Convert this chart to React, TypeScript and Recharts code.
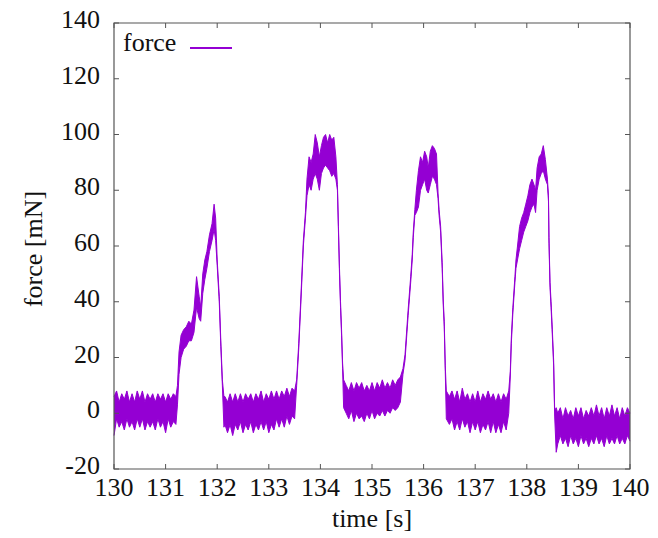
import React from 'react';
import { ComposedChart, Area, XAxis, YAxis, ReferenceArea, Legend } from 'recharts';

// ---- data (time in s, force envelope in mN) ----
const time: number[] = [
  // baseline 1
  130.00, 130.05, 130.10, 130.15, 130.20, 130.25, 130.30, 130.35, 130.40, 130.45, 130.50, 130.55, 130.60,
  130.65, 130.70, 130.75, 130.80, 130.85, 130.90, 130.95, 131.00, 131.05, 131.10, 131.15, 131.20,
  // press 1
  131.23, 131.26, 131.30, 131.35, 131.40, 131.45, 131.50, 131.55, 131.60, 131.65, 131.68, 131.72, 131.76,
  131.80, 131.85, 131.90, 131.94, 131.97, 132.00, 132.04, 132.07, 132.10,
  // baseline 2
  132.13, 132.15, 132.20, 132.25, 132.30, 132.35, 132.40, 132.45, 132.50, 132.55, 132.60, 132.65, 132.70,
  132.75, 132.80, 132.85, 132.90, 132.95, 133.00, 133.05, 133.10, 133.15, 133.20, 133.25, 133.30, 133.35,
  133.40, 133.45, 133.50,
  // press 2
  133.54, 133.58, 133.62, 133.67, 133.71, 133.74, 133.78, 133.82, 133.86, 133.90, 133.94, 133.98, 134.02,
  134.06, 134.10, 134.14, 134.18, 134.22, 134.26, 134.30, 134.33, 134.35, 134.37, 134.39, 134.41, 134.43,
  134.45,
  // baseline 3
  134.50, 134.55, 134.60, 134.65, 134.70, 134.75, 134.80, 134.85, 134.90, 134.95, 135.00, 135.05, 135.10,
  135.15, 135.20, 135.25, 135.30, 135.35, 135.40, 135.45, 135.50, 135.55,
  // press 3
  135.60, 135.64, 135.70, 135.75, 135.78, 135.80, 135.83, 135.86, 135.90, 135.94, 135.98, 136.02, 136.06,
  136.09, 136.13, 136.17, 136.21, 136.25, 136.28, 136.30, 136.33, 136.36, 136.38, 136.40, 136.42, 136.44,
  // baseline 4
  136.50, 136.55, 136.60, 136.65, 136.70, 136.75, 136.80, 136.85, 136.90, 136.95, 137.00, 137.05, 137.10,
  137.15, 137.20, 137.25, 137.30, 137.35, 137.40, 137.45, 137.50, 137.55, 137.60, 137.65,
  // press 4
  137.68, 137.70, 137.73, 137.77, 137.79, 137.82, 137.86, 137.90, 137.94, 137.98, 138.02, 138.06, 138.10,
  138.14, 138.17, 138.20, 138.24, 138.28, 138.32, 138.36, 138.40, 138.42, 138.43, 138.45, 138.47, 138.49,
  138.52, 138.54, 138.57,
  // baseline 5
  138.60, 138.65, 138.70, 138.75, 138.80, 138.85, 138.90, 138.95, 139.00, 139.05, 139.10, 139.15, 139.20,
  139.25, 139.30, 139.35, 139.40, 139.45, 139.50, 139.55, 139.60, 139.65, 139.70, 139.75, 139.80, 139.85,
  139.90, 139.95, 140.00,
];

const forceHigh: number[] = [
  6, 8, 4, 7, 5, 8, 4, 7, 4, 8, 5, 8, 4, 7, 5, 7, 4, 7, 5, 7, 4, 7, 5, 7, 6,
  10, 22, 28, 30, 31, 33, 32, 37, 49, 42, 38, 50, 55, 58, 64, 68, 75, 70, 55, 42, 26, 12,
  6, 6, 4, 7, 4, 7, 4, 7, 4, 7, 5, 7, 4, 7, 5, 8, 4, 7, 5, 8, 5, 8, 5, 8, 6, 9, 6, 9, 8,
  12, 25, 41, 62, 72, 84, 92, 90, 93, 100, 97, 92, 96, 99, 100, 97, 100, 98, 99, 92, 82, 67, 52, 40, 30, 18, 12,
  10, 8, 11, 8, 11, 9, 11, 8, 10, 8, 11, 8, 11, 9, 12, 9, 11, 9, 12, 10, 12, 13,
  16, 21, 37, 49, 57, 65, 73, 80, 87, 92, 90, 94, 92, 88, 94, 96, 95, 93, 79, 73, 67, 54, 41, 33, 17, 8,
  6, 8, 5, 8, 4, 9, 5, 7, 4, 7, 4, 8, 4, 7, 5, 8, 5, 7, 4, 7, 4, 7, 5, 8,
  15, 27, 38, 49, 55, 60, 67, 70, 72, 75, 78, 82, 84, 82, 80, 88, 92, 93, 96, 91, 84, 78, 63, 47, 40, 32, 19, 1, 2,
  0, 2, -2, 2, -1, 1, -2, 2, -1, 2, -2, 1, -1, 2, -1, 3, -1, 2, -2, 2, -1, 3, -1, 2, -2, 2, -1, 2, 0,
];

const forceLow: number[] = [
  -8, -2, -5, -3, -6, -2, -5, -3, -6, -2, -5, -2, -6, -3, -5, -3, -6, -2, -5, -3, -7, -2, -5, -3, -4,
  3, 14, 20, 23, 24, 26, 26, 29, 38, 34, 33, 43, 48, 52, 58, 62, 66, 62, 53, 40, 24, 10,
  -5, -4, -7, -4, -8, -4, -6, -3, -7, -4, -6, -3, -7, -4, -6, -3, -6, -3, -7, -4, -6, -2, -5, -2, -5, -1, -4, -1, -2,
  10, 23, 39, 60, 70, 78, 82, 80, 84, 86, 84, 80, 86, 88, 89, 88, 87, 85, 86, 84, 80, 65, 50, 38, 28, 16, 2,
  0, -2, 1, -3, 0, -2, -1, -3, 0, -2, 1, -2, 0, -1, 1, -1, 1, 0, 2, 1, 2, 4,
  14, 19, 35, 47, 55, 63, 71, 72, 74, 80, 82, 84, 80, 79, 82, 85, 84, 82, 77, 71, 65, 52, 39, 31, 15, -2,
  -4, -2, -6, -3, -6, -2, -5, -3, -7, -3, -6, -3, -7, -4, -6, -3, -7, -3, -7, -4, -7, -3, -6, 0,
  13, 25, 36, 47, 52, 55, 59, 62, 65, 67, 69, 72, 74, 75, 72, 80, 84, 86, 87, 84, 82, 76, 61, 45, 38, 30, 17, -1, -14,
  -11, -8, -11, -9, -12, -8, -11, -9, -12, -8, -11, -9, -12, -9, -11, -8, -11, -9, -12, -8, -11, -9, -11, -8, -11, -9, -11, -8, -10,
];

const xTicks: number[] = [130, 131, 132, 133, 134, 135, 136, 137, 138, 139, 140];
const yTicks: number[] = [-20, 0, 20, 40, 60, 80, 100, 120, 140];
const SERIES_NAME = 'force';
const X_TITLE = 'time [s]';
const Y_TITLE = 'force [mN]';

// ---- styling ----
const PURPLE = '#9400D3';
const AXIS = '#555555';
const FONT = "'Liberation Serif', 'Times New Roman', Times, serif";
const W = 658;
const H = 538;
const MARGIN = { top: 23, right: 28, bottom: 0, left: 8 };
const Y_AXIS_W = 106;
const X_AXIS_H = 69;
const PLOT_W = W - MARGIN.left - MARGIN.right - Y_AXIS_W;
const PLOT_H = H - MARGIN.top - MARGIN.bottom - X_AXIS_H;
const TICK = 5;

const rows = time.map((t, i) => ({ t, band: [forceLow[i], forceHigh[i]] }));

const XTick = (props: any) => {
  const { x, y, payload } = props;
  return (
    <g>
      <line x1={x} y1={y} x2={x} y2={y - TICK} stroke={AXIS} strokeWidth={1} />
      <line x1={x} y1={y - PLOT_H} x2={x} y2={y - PLOT_H + TICK} stroke={AXIS} strokeWidth={1} />
      <text x={x} y={y + 27} textAnchor="middle" fontFamily={FONT} fontSize={26} fill="#111">
        {payload.value}
      </text>
    </g>
  );
};

const YTick = (props: any) => {
  const { x, y, payload } = props;
  return (
    <g>
      <line x1={x} y1={y} x2={x + TICK} y2={y} stroke={AXIS} strokeWidth={1} />
      <line x1={x + PLOT_W} y1={y} x2={x + PLOT_W - TICK} y2={y} stroke={AXIS} strokeWidth={1} />
      <text x={x - 14} y={y + 5} textAnchor="end" fontFamily={FONT} fontSize={26} fill="#111">
        {payload.value}
      </text>
    </g>
  );
};

const LegendContent = () => (
  <div style={{ display: 'flex', alignItems: 'flex-start', fontFamily: FONT, fontSize: 26, lineHeight: '30px', color: '#111' }}>
    <span>{SERIES_NAME}</span>
    <span style={{ display: 'inline-block', width: 42, height: 2, background: PURPLE, marginLeft: 14, marginTop: 19 }} />
  </div>
);

export default function App() {
  return (
    <div style={{ width: W, height: H, margin: '-8px 0 0 -8px' }}>
      <ComposedChart width={W} height={H} data={rows} margin={MARGIN}>
        <XAxis
          dataKey="t"
          type="number"
          domain={[130, 140]}
          ticks={xTicks}
          interval={0}
          tickSize={0}
          tickMargin={0}
          axisLine={false}
          tickLine={false}
          height={X_AXIS_H}
          tick={<XTick />}
          label={{ value: X_TITLE, position: 'insideBottom', offset: 11, fontFamily: FONT, fontSize: 26, fill: '#111' }}
        />
        <YAxis
          type="number"
          domain={[-20, 140]}
          ticks={yTicks}
          interval={0}
          tickSize={0}
          tickMargin={0}
          axisLine={false}
          tickLine={false}
          width={Y_AXIS_W}
          tick={<YTick />}
          label={{ value: Y_TITLE, angle: -90, position: 'center', dx: -28, dy: 3, fontFamily: FONT, fontSize: 26, fill: '#111' }}
        />
        <Area
          type="linear"
          dataKey="band"
          name={SERIES_NAME}
          stroke={PURPLE}
          strokeWidth={1}
          fill={PURPLE}
          fillOpacity={1}
          dot={false}
          activeDot={false}
          isAnimationActive={false}
        />
        <ReferenceArea x1={130} x2={140} y1={-20} y2={140} fill="none" fillOpacity={0} stroke={AXIS} strokeWidth={1.2} ifOverflow="visible" />
        <Legend
          layout="horizontal"
          verticalAlign="middle"
          align="center"
          wrapperStyle={{ left: 123, top: 28, width: 'auto', height: 'auto' }}
          content={<LegendContent />}
        />
      </ComposedChart>
    </div>
  );
}
